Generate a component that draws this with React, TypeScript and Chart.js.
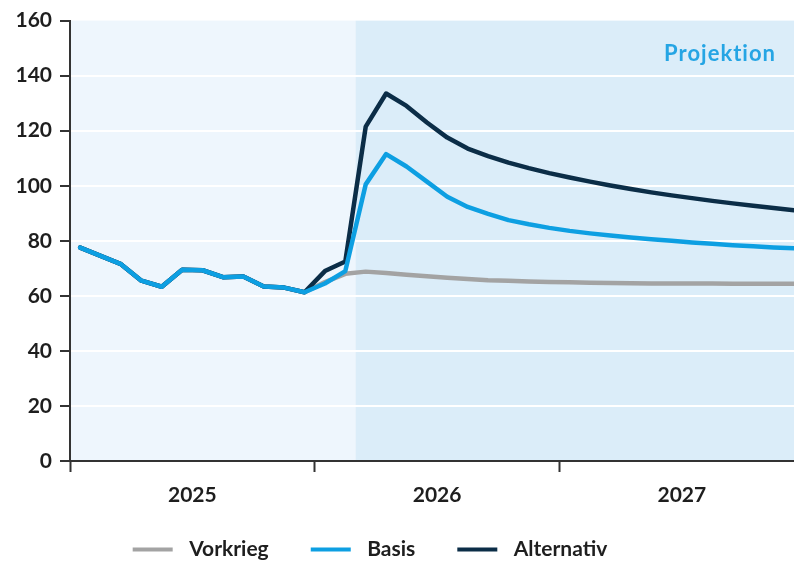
import React, { useEffect, useRef } from 'react';
import Chart from 'chart.js/auto';

const months = [
  'Jan 2025', 'Feb 2025', 'Mär 2025', 'Apr 2025', 'Mai 2025', 'Jun 2025',
  'Jul 2025', 'Aug 2025', 'Sep 2025', 'Okt 2025', 'Nov 2025', 'Dez 2025',
  'Jan 2026', 'Feb 2026', 'Mär 2026', 'Apr 2026', 'Mai 2026', 'Jun 2026',
  'Jul 2026', 'Aug 2026', 'Sep 2026', 'Okt 2026', 'Nov 2026', 'Dez 2026',
  'Jan 2027', 'Feb 2027', 'Mär 2027', 'Apr 2027', 'Mai 2027', 'Jun 2027',
  'Jul 2027', 'Aug 2027', 'Sep 2027', 'Okt 2027', 'Nov 2027', 'Dez 2027',
];

const history2025 = [77.5, 74.5, 71.5, 65.5, 63.3, 69.5, 69.3, 66.8, 67, 63.4, 63, 61.3];

const vorkrieg2026_27 = [
  65, 68, 68.8, 68.3, 67.7, 67.1, 66.6, 66.1, 65.7, 65.5, 65.2, 65.0,
  64.9, 64.8, 64.7, 64.6, 64.5, 64.5, 64.5, 64.5, 64.4, 64.4, 64.4, 64.4,
];
const basis2026_27 = [
  64.5, 69, 100.5, 111.5, 107, 101.5, 96, 92.3, 89.8, 87.5, 86, 84.7,
  83.6, 82.7, 81.9, 81.2, 80.6, 80.0, 79.4, 78.9, 78.4, 78.0, 77.6, 77.3,
];
const alternativ2026_27 = [
  69, 72.5, 121.5, 133.5, 129, 123, 117.5, 113.5, 110.8, 108.4, 106.4, 104.6,
  103, 101.5, 100.1, 98.8, 97.6, 96.5, 95.5, 94.5, 93.6, 92.7, 91.9, 91.1,
];

const yearLabels = ['2025', '2026', '2027'];
const seriesNames = ['Vorkrieg', 'Basis', 'Alternativ'];
const seriesColors = ['#a3a3a3', '#0d9fe2', '#0b2d47'];
const projectionLabel = 'Projektion';
const projectionStartMonth = 14;

const FONT = 'Lato';
const TEXT = '#1e1e1e';

export default function App() {
  const ref = useRef<HTMLCanvasElement>(null);

  useEffect(() => {
    document.body.style.margin = '0';
    let chart: Chart | null = null;
    let cancelled = false;

    const build = () => {
      if (cancelled || !ref.current) return;

      const legendImg = (color: string) => {
        const c = document.createElement('canvas');
        c.width = 84;
        c.height = 5;
        const g = c.getContext('2d')!;
        g.fillStyle = color;
        g.fillRect(38, 0.5, 40, 4);
        return c;
      };

      const toPoints = (vals: number[]) =>
        vals.map((v, i) => ({ x: months.indexOf(months[i]) + 0.5, y: v }));

      const allSeries = [
        history2025.concat(vorkrieg2026_27),
        history2025.concat(basis2026_27),
        history2025.concat(alternativ2026_27),
      ];
      const orders = [3, 1, 2];

      const plugin = {
        id: 'decor',
        afterLayout(c: any) {
          if (c.legend) {
            c.legend.left -= 46;
            c.legend.right -= 46;
            c.legend.top += 9;
            c.legend.bottom += 9;
          }
        },
        beforeDraw(c: any) {
          const { ctx, chartArea: a, scales } = c;
          const xs = scales.x.getPixelForValue(projectionStartMonth);
          ctx.save();
          ctx.fillStyle = '#eef6fd';
          ctx.fillRect(a.left, a.top, xs - a.left, a.bottom - a.top);
          ctx.fillStyle = '#dbedf9';
          ctx.fillRect(xs, a.top, a.right - xs, a.bottom - a.top);
          ctx.restore();
        },
        beforeDatasetsDraw(c: any) {
          const { ctx, chartArea: a } = c;
          ctx.save();
          ctx.font = `bold 22px ${FONT}`;
          try { (ctx as any).letterSpacing = '1px'; } catch (e) {}
          ctx.fillStyle = '#25a5e4';
          ctx.textAlign = 'right';
          ctx.textBaseline = 'middle';
          ctx.fillText(projectionLabel, a.right - 18, a.top + 33);
          ctx.restore();
        },
      };

      chart = new Chart(ref.current, {
        type: 'line',
        data: {
          datasets: allSeries.map((vals, i) => ({
            label: seriesNames[i],
            data: toPoints(vals),
            borderColor: seriesColors[i],
            backgroundColor: seriesColors[i],
            borderWidth: 4.5,
            pointRadius: 0,
            pointHoverRadius: 0,
            tension: 0,
            order: orders[i],
            borderJoinStyle: 'round',
            borderCapStyle: 'round',
          })),
        },
        options: {
          animation: false,
          responsive: false,
          devicePixelRatio: 1,
          layout: { padding: { top: 20, right: 0, left: 0, bottom: 0 } },
          plugins: {
            tooltip: { enabled: false },
            legend: {
              position: 'bottom',
              labels: {
                usePointStyle: true,
                pointStyleWidth: 84,
                boxHeight: 5,
                padding: 4,
                color: TEXT,
                font: { family: FONT, size: 21, weight: 'bold' },
                sort: (a: any, b: any) => a.datasetIndex - b.datasetIndex,
                generateLabels: (c: any) => {
                  const items = (Chart as any).defaults.plugins.legend.labels.generateLabels(c);
                  return items.map((it: any) => ({
                    ...it,
                    pointStyle: legendImg(seriesColors[it.datasetIndex]),
                  }));
                },
              },
            },
          },
          scales: {
            x: {
              type: 'linear',
              min: 0,
              max: 35.5,
              afterBuildTicks: (s: any) => {
                s.ticks = [0, 6, 12, 18, 24, 30].map((v) => ({ value: v }));
              },
              afterFit: (s: any) => {
                s.height = 65;
              },
              ticks: {
                autoSkip: false,
                maxRotation: 0,
                padding: 11,
                color: TEXT,
                font: { family: FONT, size: 21, weight: 'bold' },
                callback: (v: any) => {
                  const n = Number(v);
                  if (n % 12 === 6) return yearLabels[(n - 6) / 12];
                  return '';
                },
              },
              grid: {
                drawOnChartArea: false,
                drawTicks: true,
                tickLength: 11,
                tickWidth: 2,
                tickColor: (ctx: any) =>
                  ctx.tick && ctx.tick.value % 12 === 0 ? '#333' : 'rgba(0,0,0,0)',
              },
              border: { display: true, color: '#333', width: 2 },
            },
            y: {
              min: 0,
              max: 160,
              afterFit: (s: any) => {
                s.width = 70;
              },
              ticks: {
                stepSize: 20,
                padding: 8,
                color: TEXT,
                font: { family: FONT, size: 21, weight: 'bold' },
              },
              grid: {
                color: (ctx: any) =>
                  ctx.tick && (ctx.tick.value === 0 || ctx.tick.value === 160)
                    ? 'rgba(0,0,0,0)'
                    : '#ffffff',
                lineWidth: 2,
                drawTicks: true,
                tickLength: 10,
                tickWidth: 2,
                tickColor: '#333',
              },
              border: { display: true, color: '#333', width: 2 },
            },
          },
        },
        plugins: [plugin],
      } as any);
    };

    if ((document as any).fonts && (document as any).fonts.load) {
      (document as any).fonts.load(`bold 21px ${FONT}`).then(build, build);
    } else {
      build();
    }

    return () => {
      cancelled = true;
      if (chart) chart.destroy();
    };
  }, []);

  return (
    <div style={{ position: 'absolute', left: 0, top: 0, width: 794, height: 561 }}>
      <canvas ref={ref} width={794} height={561} style={{ display: 'block' }} />
    </div>
  );
}
